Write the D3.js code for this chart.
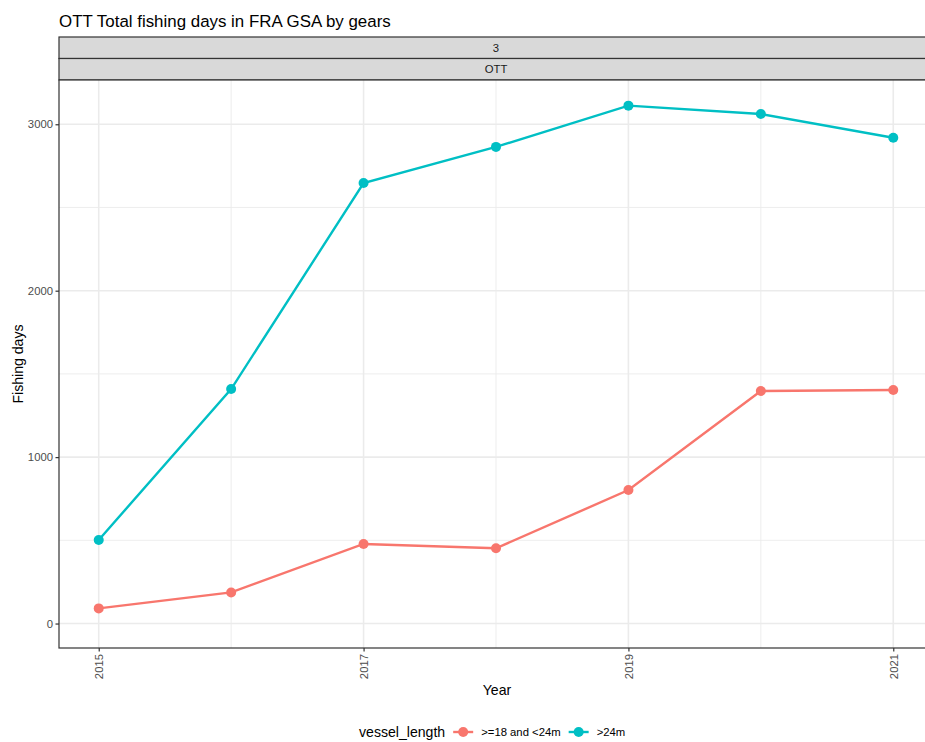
<!DOCTYPE html>
<html>
<head>
<meta charset="utf-8">
<script src="https://cdn.jsdelivr.net/npm/d3@7"></script>
<style>
  html, body { margin: 0; padding: 0; background: #fff; }
  svg { display: block; font-family: "Liberation Sans", Arial, Helvetica, sans-serif; }
</style>
</head>
<body>
<svg id="chart" width="925" height="742"></svg>
<script>
// Fishing days per year for OTT gear, GSA 3, split by vessel length class
const years = [2015, 2016, 2017, 2018, 2019, 2020, 2021];
const seriesNames = [">=18 and <24m", ">24m"];
const days18to24 = [91, 187, 478, 452, 802, 1397, 1403];
const daysOver24 = [502, 1409, 2647, 2864, 3112, 3062, 2919];
const xTickYears = [2015, 2017, 2019, 2021];
const xMinorYears = [2016, 2018, 2020];
const yTicks = [0, 1000, 2000, 3000];
const yMinor = [500, 1500, 2500];
const stripLabels = ["3", "OTT"];
const seriesColors = ["#F8766D", "#00BFC4"];

const series = [
  { name: seriesNames[0], color: seriesColors[0], values: years.map((yr, i) => ({ year: yr, value: days18to24[i] })) },
  { name: seriesNames[1], color: seriesColors[1], values: years.map((yr, i) => ({ year: yr, value: daysOver24[i] })) }
];

const BASE = 14.1;      // axis / legend titles
const SMALL = 11.3;     // tick, strip and legend labels
const TITLE = 16.9;
const LINE_W = 2.4;
const POINT_R = 5;

const svg = d3.select("#chart");

const panel = { left: 59, right: 933, top: 80, bottom: 648 };
const stripH = 21.5;

const x = d3.scaleLinear().domain([2014.7, 2021.3]).range([panel.left, panel.right]);
const y = d3.scaleLinear().domain([-147, 3266]).range([panel.bottom, panel.top]);

// Title
svg.append("text")
  .attr("x", 59).attr("y", 26.5)
  .attr("font-size", TITLE).attr("fill", "#000")
  .text("OTT Total fishing days in FRA GSA by gears");

// Facet strips
stripLabels.forEach((lab, i) => {
  const top = panel.top - stripH * (stripLabels.length - i);
  svg.append("rect")
    .attr("x", panel.left).attr("y", top)
    .attr("width", panel.right - panel.left).attr("height", stripH)
    .attr("fill", "#D9D9D9").attr("stroke", "#333").attr("stroke-width", 1.2);
  svg.append("text")
    .attr("x", (panel.left + panel.right) / 2).attr("y", top + stripH / 2)
    .attr("dy", "0.35em").attr("text-anchor", "middle")
    .attr("font-size", SMALL).attr("fill", "#1A1A1A")
    .text(lab);
});

// Panel background and grid
const g = svg.append("g");
g.append("rect")
  .attr("x", panel.left).attr("y", panel.top)
  .attr("width", panel.right - panel.left).attr("height", panel.bottom - panel.top)
  .attr("fill", "#fff");

g.selectAll(".yminor").data(yMinor).join("line")
  .attr("x1", panel.left).attr("x2", panel.right)
  .attr("y1", d => y(d)).attr("y2", d => y(d))
  .attr("stroke", "#EBEBEB").attr("stroke-width", 0.9);
g.selectAll(".xminor").data(xMinorYears).join("line")
  .attr("y1", panel.top).attr("y2", panel.bottom)
  .attr("x1", d => x(d)).attr("x2", d => x(d))
  .attr("stroke", "#EBEBEB").attr("stroke-width", 0.9);
g.selectAll(".ymajor").data(yTicks).join("line")
  .attr("x1", panel.left).attr("x2", panel.right)
  .attr("y1", d => y(d)).attr("y2", d => y(d))
  .attr("stroke", "#EBEBEB").attr("stroke-width", 1.6);
g.selectAll(".xmajor").data(xTickYears).join("line")
  .attr("y1", panel.top).attr("y2", panel.bottom)
  .attr("x1", d => x(d)).attr("x2", d => x(d))
  .attr("stroke", "#EBEBEB").attr("stroke-width", 1.6);

// Lines and points
const line = d3.line().x(d => x(d.year)).y(d => y(d.value));
series.forEach(s => {
  g.append("path")
    .datum(s.values)
    .attr("d", line)
    .attr("fill", "none")
    .attr("stroke", s.color)
    .attr("stroke-width", LINE_W);
  g.selectAll(null).data(s.values).join("circle")
    .attr("cx", d => x(d.year)).attr("cy", d => y(d.value))
    .attr("r", POINT_R).attr("fill", s.color);
});

// Panel border
svg.append("rect")
  .attr("x", panel.left).attr("y", panel.top)
  .attr("width", panel.right - panel.left).attr("height", panel.bottom - panel.top)
  .attr("fill", "none").attr("stroke", "#333").attr("stroke-width", 1.2);

// Axes
const yAxis = svg.append("g")
  .attr("transform", `translate(${panel.left},0)`)
  .call(d3.axisLeft(y).tickValues(yTicks).tickSize(3.5).tickPadding(2.5).tickFormat(d3.format("d")));
yAxis.select(".domain").remove();
yAxis.selectAll(".tick line").attr("stroke", "#333").attr("stroke-width", 1.2);
yAxis.selectAll(".tick text").attr("font-size", SMALL).attr("fill", "#4D4D4D")
  .attr("font-family", "Liberation Sans, Arial, sans-serif");

const xAxis = svg.append("g")
  .attr("transform", `translate(0,${panel.bottom})`)
  .call(d3.axisBottom(x).tickValues(xTickYears).tickSize(3.5).tickFormat(d3.format("d")));
xAxis.select(".domain").remove();
xAxis.selectAll(".tick line").attr("stroke", "#333").attr("stroke-width", 1.2);
xAxis.selectAll(".tick text")
  .attr("font-size", SMALL).attr("fill", "#4D4D4D").attr("font-family", "Liberation Sans, Arial, sans-serif")
  .attr("transform", "rotate(-90)")
  .attr("text-anchor", "end")
  .attr("x", -6).attr("y", 0).attr("dy", "0.35em");

// Axis titles
svg.append("text")
  .attr("x", 497).attr("y", 695)
  .attr("text-anchor", "middle").attr("font-size", BASE).attr("fill", "#000")
  .text("Year");
svg.append("text")
  .attr("transform", `translate(18,${(panel.top + panel.bottom) / 2}) rotate(-90)`)
  .attr("text-anchor", "middle").attr("dy", "0.35em").attr("font-size", BASE).attr("fill", "#000")
  .text("Fishing days");

// Legend
const legend = svg.append("g").attr("transform", "translate(0,732)");
const legendTitle = legend.append("text")
  .attr("x", 359).attr("dy", "0.35em").attr("font-size", BASE).attr("fill", "#000")
  .text("vessel_length");
let cursor = 359 + legendTitle.node().getComputedTextLength() + 7;
series.forEach(s => {
  const keyW = 22;
  const k = legend.append("g").attr("transform", `translate(${cursor + keyW / 2},0)`);
  k.append("line").attr("x1", -keyW / 2 + 1).attr("x2", keyW / 2 - 1)
    .attr("stroke", s.color).attr("stroke-width", LINE_W);
  k.append("circle").attr("r", POINT_R).attr("fill", s.color);
  const t = legend.append("text")
    .attr("x", cursor + keyW + 7).attr("dy", "0.35em")
    .attr("font-size", SMALL).attr("fill", "#000")
    .text(s.name);
  cursor += keyW + 7 + t.node().getComputedTextLength() + 7;
});
</script>
</body>
</html>
